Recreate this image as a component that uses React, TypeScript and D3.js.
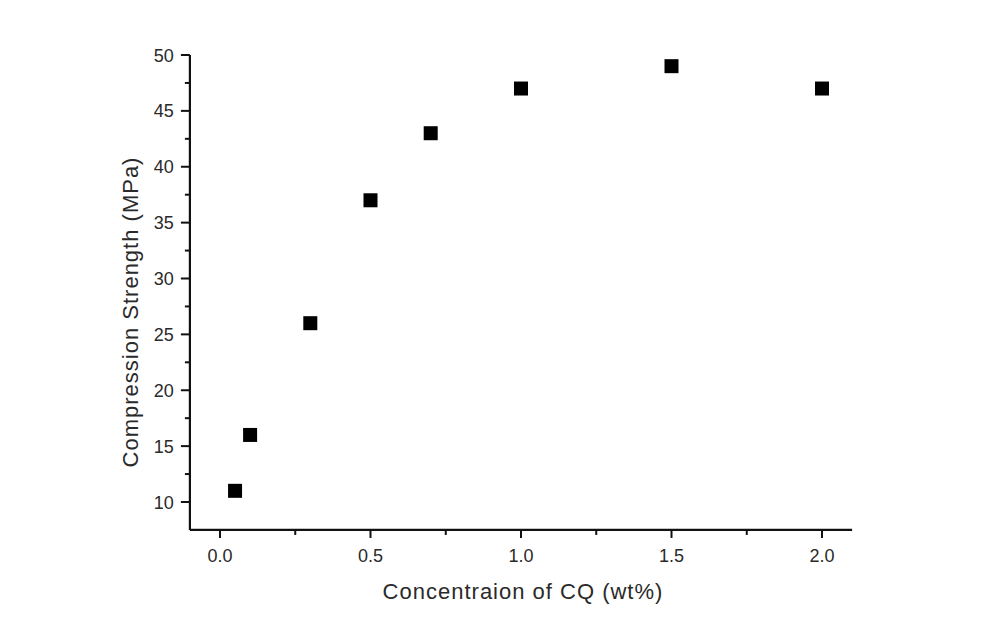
import React from "react";
import * as d3 from "d3";

const concentrations = [0.05, 0.1, 0.3, 0.5, 0.7, 1.0, 1.5, 2.0];
const strengths = [11, 16, 26, 37, 43, 47, 49, 47];
const xTicks = [0.0, 0.5, 1.0, 1.5, 2.0];
const yTicks = [10, 15, 20, 25, 30, 35, 40, 45, 50];

export default function App() {
  const W = 996, H = 618;
  const x = d3.scaleLinear().domain([0, 2]).range([220, 822]);
  const y = d3.scaleLinear().domain([10, 50]).range([502, 55]);
  const x0 = x(-0.1), x1 = x(2.1);
  const yBot = y(7.5), yTop = y(50);
  const font = "Liberation Sans, Arial, sans-serif";
  const col = "#2a2a2a";
  const xMinor = d3.range(0.25, 2, 0.5);
  const yMinor = d3.range(12.5, 50, 5);
  return (
    <svg width={W} height={H} style={{ position: "absolute", left: 0, top: 0 }}>
      <rect width={W} height={H} fill="#fff" />
      <line x1={x0} x2={x1} y1={yBot} y2={yBot} stroke="#111" strokeWidth={2.2} />
      <line x1={x0} x2={x0} y1={yBot} y2={yTop} stroke="#111" strokeWidth={2.2} />
      {xTicks.map((t) => (
        <g key={"xt" + t}>
          <line x1={x(t)} x2={x(t)} y1={yBot} y2={yBot + 8} stroke="#111" strokeWidth={2} />
          <text x={x(t)} y={yBot + 32} textAnchor="middle" fontFamily={font} fontSize={18} fill={col}>
            {t.toFixed(1)}
          </text>
        </g>
      ))}
      {xMinor.map((t) => (
        <line key={"xm" + t} x1={x(t)} x2={x(t)} y1={yBot} y2={yBot + 5} stroke="#111" strokeWidth={2} />
      ))}
      {yTicks.map((t) => (
        <g key={"yt" + t}>
          <line x1={x0} x2={x0 - 9} y1={y(t)} y2={y(t)} stroke="#111" strokeWidth={2} />
          <text x={x0 - 16} y={y(t) + 6.5} textAnchor="end" fontFamily={font} fontSize={18} fill={col}>
            {t}
          </text>
        </g>
      ))}
      {yMinor.map((t) => (
        <line key={"ym" + t} x1={x0} x2={x0 - 5} y1={y(t)} y2={y(t)} stroke="#111" strokeWidth={2} />
      ))}
      {concentrations.map((c, i) => (
        <rect key={"p" + i} x={x(c) - 7} y={y(strengths[i]) - 7} width={14} height={14} fill="#000" />
      ))}
      <text x={523} y={599} textAnchor="middle" fontFamily={font} fontSize={22} letterSpacing={1} fill={col}>
        Concentraion of CQ (wt%)
      </text>
      <text
        transform={`translate(138, 312) rotate(-90)`}
        textAnchor="middle"
        fontFamily={font}
        fontSize={22}
        letterSpacing={1}
        fill={col}
      >
        Compression Strength (MPa)
      </text>
    </svg>
  );
}
